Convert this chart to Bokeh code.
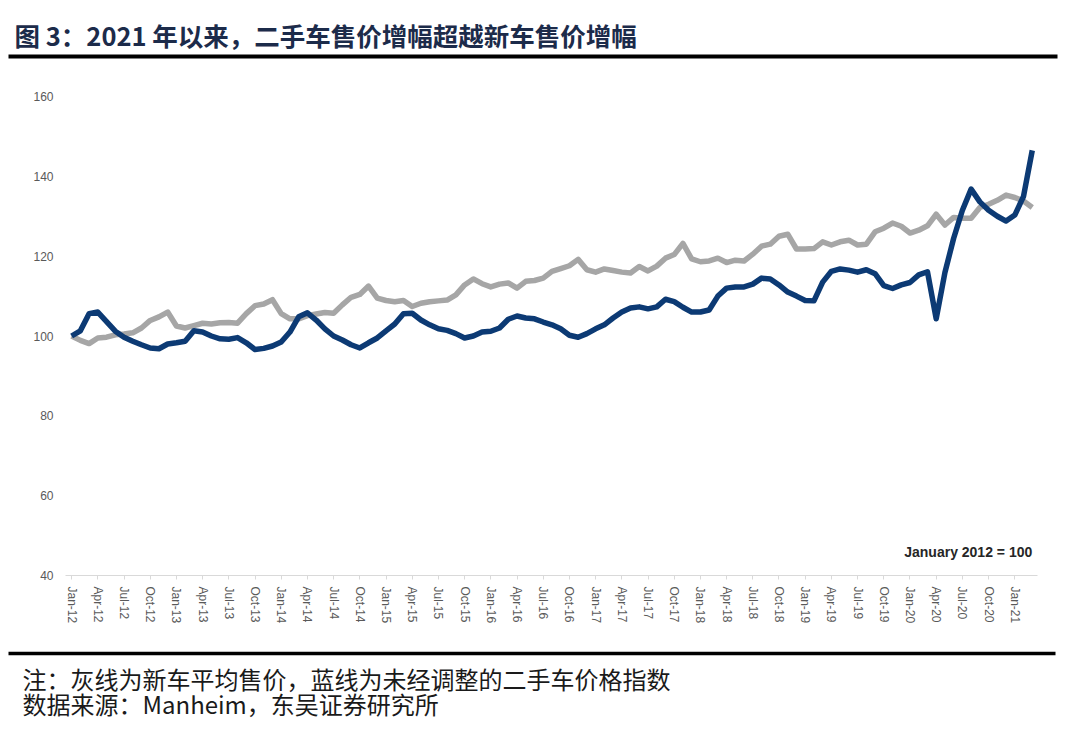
from bokeh.plotting import figure
from bokeh.models import Range1d, FixedTicker, Label
from bokeh.layouts import column
from bokeh.embed import file_html
from bokeh.resources import INLINE
from bokeh.core.properties import value

# ---------------- data (Jan-12 .. Mar-21, monthly, Jan 2012 = 100) ----------------
new_car_price = [
    100.0, 98.9, 98.1, 99.5, 99.7, 100.3, 100.5, 100.8, 102.0, 103.9, 104.8, 106.0,
    102.5, 102.0, 102.6, 103.2, 103.0, 103.3, 103.4, 103.2, 105.6, 107.6, 108.0, 109.1,
    105.6, 104.3, 104.3, 105.1, 105.5, 105.9, 105.7, 107.8, 109.7, 110.4, 112.5, 109.5,
    108.9, 108.6, 108.9, 107.4, 108.2, 108.6, 108.8, 109.0, 110.3, 112.8, 114.3, 113.1,
    112.3, 113.0, 113.3, 112.0, 113.7, 113.9, 114.5, 116.2, 116.9, 117.6, 119.2, 116.6,
    116.0, 116.8, 116.4, 116.0, 115.8, 117.4, 116.3, 117.5, 119.5, 120.4, 123.2, 119.3,
    118.6, 118.8, 119.5, 118.4, 119.0, 118.8, 120.5, 122.5, 123.0, 125.0, 125.5, 121.8,
    121.8, 121.9, 123.6, 122.8, 123.6, 124.0, 122.8, 123.0, 126.1, 127.0, 128.3, 127.5,
    125.8, 126.5, 127.6, 130.5, 127.8, 129.7, 129.5, 129.5, 132.2, 133.0, 134.0, 135.3,
    134.7, 133.8, 132.2,
]
used_car_index = [
    100.0, 101.3, 105.6, 106.0, 103.6, 101.2, 99.7, 98.7, 97.8, 97.0, 96.8, 98.0,
    98.3, 98.7, 101.3, 101.0, 100.0, 99.3, 99.2, 99.6, 98.3, 96.6, 96.9, 97.5,
    98.5, 101.0, 104.8, 105.8, 104.0, 101.8, 100.0, 99.0, 97.8, 97.0, 98.3, 99.5,
    101.3, 103.0, 105.6, 105.7, 104.0, 102.8, 101.8, 101.4, 100.6, 99.5, 100.0, 101.0,
    101.2, 102.0, 104.2, 105.0, 104.5, 104.3, 103.5, 102.8, 101.8, 100.2, 99.7, 100.6,
    101.8, 102.8, 104.5, 106.0, 107.0, 107.3, 106.8, 107.3, 109.2, 108.6, 107.2, 106.0,
    106.0, 106.5, 110.0, 112.0, 112.3, 112.3, 113.0, 114.5, 114.3, 112.8, 111.0, 110.0,
    108.9, 108.8, 113.5, 116.2, 116.8, 116.5, 116.0, 116.6, 115.6, 112.6, 111.9, 112.8,
    113.4, 115.3, 116.1, 104.3, 115.9, 124.5, 131.5, 136.8, 133.6, 131.5, 130.0, 128.8,
    130.3, 135.0, 146.5,
]
tick_labels = [
    "Jan-12", "Apr-12", "Jul-12", "Oct-12", "Jan-13", "Apr-13", "Jul-13", "Oct-13",
    "Jan-14", "Apr-14", "Jul-14", "Oct-14", "Jan-15", "Apr-15", "Jul-15", "Oct-15",
    "Jan-16", "Apr-16", "Jul-16", "Oct-16", "Jan-17", "Apr-17", "Jul-17", "Oct-17",
    "Jan-18", "Apr-18", "Jul-18", "Oct-18", "Jan-19", "Apr-19", "Jul-19", "Oct-19",
    "Jan-20", "Apr-20", "Jul-20", "Oct-20", "Jan-21",
]
y_ticks = [40, 60, 80, 100, 120, 140, 160]

title_text = "图 3：2021 年以来，二手车售价增幅超越新车售价增幅"
note_text = "注：灰线为新车平均售价，蓝线为未经调整的二手车价格指数"
source_text = "数据来源：Manheim，东吴证券研究所"
base_text = "January 2012 = 100"

CJK = value("Noto Sans CJK SC")
W = 1064
BL, BR = 65, 27            # shared left / right borders (frames are aligned in the column)
FW = W - BL - BR           # frame width
n = len(new_car_price)
idx = list(range(n))


def blank(h):
    f = figure(width=W, height=h, x_range=Range1d(0, FW), y_range=Range1d(h, 0),
               output_backend="svg", toolbar_location=None,
               min_border_left=BL, min_border_right=BR, min_border_top=0, min_border_bottom=0,
               x_axis_location=None, y_axis_location=None)
    f.grid.visible = False
    f.outline_line_color = None
    return f


# ---------------- header ----------------
top = blank(66)
top.text(x=[14 - BL], y=[34], text=[title_text], text_font=CJK, text_font_style="bold",
         text_font_size="25.5px", text_color="#1c2b4a", text_baseline="middle", level="overlay")
top.segment(x0=[8 - BL], y0=[56], x1=[1057 - BL], y1=[56], line_width=4,
            line_color="#000000", level="overlay")

# ---------------- main chart ----------------
p = figure(width=W, height=576, x_range=Range1d(-0.7, n - 1 + 0.6), y_range=Range1d(40, 160),
           output_backend="svg", toolbar_location=None,
           min_border_left=BL, min_border_right=BR, min_border_top=30, min_border_bottom=67)
p.grid.visible = False
p.outline_line_color = None

p.line(idx, new_car_price, line_color="#a6a6a6", line_width=5.5, line_join="round")
p.line(idx, used_car_index, line_color="#0c3a74", line_width=5.5, line_join="round")

p.yaxis.ticker = FixedTicker(ticks=y_ticks)
p.yaxis.axis_line_color = None
p.yaxis.major_tick_line_color = None
p.yaxis.minor_tick_line_color = None
p.yaxis.major_tick_out = 0
p.yaxis.major_tick_in = 0
p.yaxis.major_label_standoff = 12
p.yaxis.major_label_text_font_size = "12px"
p.yaxis.major_label_text_color = "#595959"
p.yaxis.major_label_text_font = "Liberation Sans"

xt = list(range(0, n, 3))
p.xaxis.ticker = FixedTicker(ticks=xt)
p.xaxis.major_label_overrides = {t: lab for t, lab in zip(xt, tick_labels)}
p.xaxis.major_label_orientation = "vertical"
p.xaxis.axis_line_color = "#d9d9d9"
p.xaxis.major_tick_line_color = "#d9d9d9"
p.xaxis.major_tick_out = 4
p.xaxis.major_tick_in = 0
p.xaxis.minor_tick_line_color = None
p.xaxis.major_label_standoff = 7
p.xaxis.major_label_text_font_size = "12px"
p.xaxis.major_label_text_color = "#595959"
p.xaxis.major_label_text_font = "Liberation Sans"

p.add_layout(Label(x=n - 1, y=46, text=base_text, text_align="right", text_baseline="middle",
                   text_font_size="14px", text_font_style="bold", text_color="#262626",
                   text_font="Liberation Sans"))

# ---------------- footer ----------------
bot = blank(80)
bot.segment(x0=[8 - BL], y0=[11], x1=[1055 - BL], y1=[11], line_width=3.5,
            line_color="#000000", level="overlay")
bot.text(x=[22 - BL, 22 - BL], y=[36, 61], text=[note_text, source_text], text_font=CJK,
         text_font_size="24px", text_color="#1a1a1a", text_baseline="middle", level="overlay")

layout = column(top, p, bot, spacing=0)
open("out.html", "w").write(file_html(layout, INLINE))
